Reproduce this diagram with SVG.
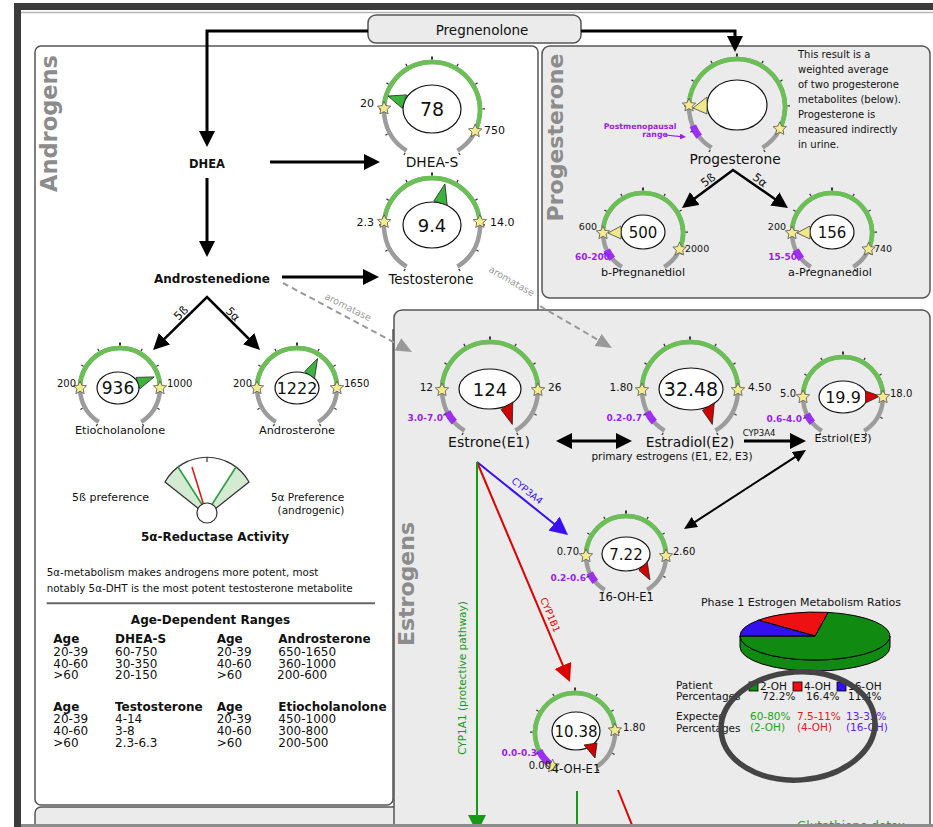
<svg xmlns="http://www.w3.org/2000/svg" xmlns:xlink="http://www.w3.org/1999/xlink" width="933" height="827" viewBox="0 0 933 827">
<style>
.t{font-family:"DejaVu Sans","Liberation Sans",sans-serif;fill:#111}
.b{font-weight:bold}
.c{text-anchor:middle}
.e{text-anchor:end}
.pnl{fill:#ebebeb;stroke:#555;stroke-width:1.5}
.ring{fill:none;stroke:#9c9c9c;stroke-width:4.5}
.grn{fill:none;stroke:#6abf55;stroke-width:4.5}
.pur{fill:none;stroke:#9d2ff0;stroke-width:7}
.tk{stroke:#333;stroke-width:1.2}
.el{fill:#fff;stroke:#111;stroke-width:1.2}
.st{fill:#f4ea8e;stroke:#555;stroke-width:0.8}
.pg{fill:#3db33d;stroke:#222;stroke-width:0.8}
.py{fill:#f2e88a;stroke:#444;stroke-width:0.8}
.pr{fill:#d00000;stroke:#222;stroke-width:0.8}
.pt{fill:#9a1ee6;font-weight:bold}
.lbl{fill:#8c8c8c;font-weight:bold}
.ln{fill:none;stroke:#000;stroke-width:3}
.ln2{fill:none;stroke:#000;stroke-width:2.5}
.gy{fill:#9a9a9a}
</style>
<defs>
<marker id="aK" viewBox="0 0 16 16" refX="4" refY="8" markerWidth="16" markerHeight="16" markerUnits="userSpaceOnUse" orient="auto-start-reverse"><path d="M0,0L16,8L0,16Z" fill="#000"/></marker>
<marker id="aS" viewBox="0 0 13 12" refX="3" refY="6" markerWidth="13" markerHeight="12" markerUnits="userSpaceOnUse" orient="auto-start-reverse"><path d="M0,0L13,6L0,12Z" fill="#000"/></marker>
<marker id="aB" viewBox="0 0 18 18" refX="4" refY="9" markerWidth="18" markerHeight="18" markerUnits="userSpaceOnUse" orient="auto"><path d="M0,0L18,9L0,18Z" fill="#3a10f0"/></marker>
<marker id="aR" viewBox="0 0 18 18" refX="4" refY="9" markerWidth="18" markerHeight="18" markerUnits="userSpaceOnUse" orient="auto"><path d="M0,0L18,9L0,18Z" fill="#dd0000"/></marker>
<marker id="aG" viewBox="0 0 18 18" refX="4" refY="9" markerWidth="18" markerHeight="18" markerUnits="userSpaceOnUse" orient="auto"><path d="M0,0L18,9L0,18Z" fill="#149a14"/></marker>
<marker id="aY" viewBox="0 0 16 14" refX="4" refY="7" markerWidth="16" markerHeight="14" markerUnits="userSpaceOnUse" orient="auto"><path d="M0,0L16,7L0,14Z" fill="#999"/></marker>
<marker id="aP" viewBox="0 0 6 6" refX="1" refY="3" markerWidth="6" markerHeight="6" markerUnits="userSpaceOnUse" orient="auto"><path d="M0,0L6,3L0,6Z" fill="#9a1ee6"/></marker>
<path id="r48" class="ring" d="M-25.44,40.7A48,48 0 1 1 25.44,40.7"/>
<path id="r40" class="ring" d="M-21.2,33.92A40,40 0 1 1 21.2,33.92"/>
<g id="k48" class="tk">
<line y1="-50.5" y2="-53" transform="rotate(-148)"/><line y1="-50.5" y2="-53" transform="rotate(-118.4)"/><line y1="-50.5" y2="-53" transform="rotate(-88.8)"/><line y1="-50.5" y2="-53" transform="rotate(-59.2)"/><line y1="-50.5" y2="-53" transform="rotate(-29.6)"/><line y1="-50.5" y2="-53.5" stroke-width="2"/><line y1="-50.5" y2="-53" transform="rotate(29.6)"/><line y1="-50.5" y2="-53" transform="rotate(59.2)"/><line y1="-50.5" y2="-53" transform="rotate(88.8)"/><line y1="-50.5" y2="-53" transform="rotate(118.4)"/><line y1="-50.5" y2="-53" transform="rotate(148)"/>
</g>
<g id="k40" class="tk">
<line y1="-42.5" y2="-45" transform="rotate(-148)"/><line y1="-42.5" y2="-45" transform="rotate(-118.4)"/><line y1="-42.5" y2="-45" transform="rotate(-88.8)"/><line y1="-42.5" y2="-45" transform="rotate(-59.2)"/><line y1="-42.5" y2="-45" transform="rotate(-29.6)"/><line y1="-42.5" y2="-45.5" stroke-width="2"/><line y1="-42.5" y2="-45" transform="rotate(29.6)"/><line y1="-42.5" y2="-45" transform="rotate(59.2)"/><line y1="-42.5" y2="-45" transform="rotate(88.8)"/><line y1="-42.5" y2="-45" transform="rotate(118.4)"/><line y1="-42.5" y2="-45" transform="rotate(148)"/>
</g>
<path id="s" class="st" d="M0,-7L1.94,-2.67L6.66,-2.16L3.14,1.02L4.11,5.66L0,3.3L-4.11,5.66L-3.14,1.02L-6.66,-2.16L-1.94,-2.67Z"/>
</defs>

<g id="frame">
<rect x="0" y="0" width="933" height="827" fill="#fff"/>
<rect x="14" y="3" width="7" height="824" fill="#3b3b3b"/>
<rect x="14" y="3" width="919" height="7" fill="#3b3b3b"/>
<line x1="21" y1="12.5" x2="933" y2="12.5" stroke="#b5b5b5" stroke-width="1.5"/>
</g>

<g id="panel-androgens">
<path d="M41,46H532A6,6 0 0 1 538,52V330H393V799A6,6 0 0 1 387,805H41A6,6 0 0 1 35,799V52A6,6 0 0 1 41,46Z" fill="#fff" stroke="#555" stroke-width="1.5"/>
<text class="t lbl c" font-size="22.5" transform="translate(56.5,123.5) rotate(-90)">Androgens</text>
</g>
<g id="panel-bottom"><rect x="35" y="807" width="380" height="40" rx="6" class="pnl"/></g>
<g id="panel-progesterone">
<rect x="542" y="46" width="388" height="252" rx="8" class="pnl"/>
<text class="t lbl c" font-size="22" transform="translate(562.5,137.5) rotate(-90)">Progesterone</text>
<g class="t" font-size="10">
<text x="798" y="58">This result is a</text>
<text x="798" y="73">weighted average</text>
<text x="798" y="88">of two progesterone</text>
<text x="798" y="103">metabolites (below).</text>
<text x="798" y="118">Progesterone is</text>
<text x="798" y="133">measured indirectly</text>
<text x="798" y="148">in urine.</text>
</g>
</g>
<g id="panel-estrogens">
<rect x="394" y="310" width="536" height="540" rx="8" class="pnl"/>
<text class="t lbl c" font-size="22" transform="translate(414,584) rotate(-90)">Estrogens</text>
</g>

<g id="node-pregnenolone">
<rect x="368" y="15" width="213" height="28" rx="8" class="pnl"/>
<text x="482" y="35" class="t c" font-size="13.5">Pregnenolone</text>
</g>

<g id="connectors">
<polyline points="368,31 207,31 207,135" class="ln" marker-end="url(#aK)"/>
<polyline points="581,31 735,31 735,40" class="ln" marker-end="url(#aK)"/>
<line x1="270" y1="162" x2="368" y2="162" class="ln" marker-end="url(#aK)"/>
<line x1="207" y1="178" x2="207" y2="245" class="ln" marker-end="url(#aK)"/>
<line x1="282" y1="277" x2="367" y2="277" class="ln" marker-end="url(#aK)"/>
<polyline points="161.6,341.6 207,297 251.5,341.5" class="ln2" marker-start="url(#aK)" marker-end="url(#aK)"/>
<polyline points="691.6,200.8 733,170 778.1,201.2" class="ln2" marker-start="url(#aK)" marker-end="url(#aK)"/>
<line x1="283" y1="283" x2="401.4" y2="346.3" stroke="#999" stroke-width="2" stroke-dasharray="6,4" marker-end="url(#aY)"/>
<line x1="540" y1="306" x2="601.6" y2="342" stroke="#999" stroke-width="2" stroke-dasharray="6,4" marker-end="url(#aY)"/>
<text class="t gy c" font-size="9.5" transform="translate(346.5,310) rotate(27)">aromatase</text>
<text class="t gy c" font-size="9.5" transform="translate(510,284) rotate(30)">aromatase</text>
<line x1="568" y1="441" x2="620" y2="441" class="ln" marker-start="url(#aK)" marker-end="url(#aK)"/>
<line x1="744" y1="441" x2="794" y2="441" class="ln" marker-end="url(#aK)"/>
<text x="759" y="436" class="t c" font-size="8.5">CYP3A4</text>
<text x="672" y="460" class="t c" font-size="10.5">primary estrogens (E1, E2, E3)</text>
<line x1="692.4" y1="523.6" x2="797.6" y2="455.4" stroke="#000" stroke-width="2" marker-start="url(#aS)" marker-end="url(#aS)"/>
<line x1="477" y1="462" x2="557.1" y2="526.2" stroke="#3a10f0" stroke-width="2" marker-end="url(#aB)"/>
<line x1="477" y1="462" x2="564.5" y2="669.1" stroke="#dd0000" stroke-width="2" marker-end="url(#aR)"/>
<line x1="477" y1="462" x2="477" y2="819" stroke="#149a14" stroke-width="2" marker-end="url(#aG)"/>
<text class="t c" font-size="9.5" style="fill:#3a10f0" transform="translate(527,491) rotate(38.7)" y="3">CYP3A4</text>
<text class="t c" font-size="9.5" style="fill:#dd0000" transform="translate(550,615) rotate(67)" y="3">CYP1B1</text>
<text class="t c" font-size="10.5" style="fill:#149a14" transform="translate(466,678) rotate(-90)">CYP1A1 (protective pathway)</text>
<line x1="577" y1="791" x2="577" y2="830" stroke="#149a14" stroke-width="2"/>
<line x1="618" y1="790" x2="634" y2="830" stroke="#dd0000" stroke-width="2"/>
<line x1="665" y1="135" x2="681" y2="136.6" stroke="#9a1ee6" stroke-width="1.2" marker-end="url(#aP)"/>
</g>

<g id="node-dhea"><text x="207" y="168" class="t b c" font-size="11.5">DHEA</text></g>
<g id="node-androstenedione"><text x="212" y="283" class="t b c" font-size="12">Androstenedione</text></g>
<g id="labels-5ab" class="t" font-size="11.5">
<text class="t c" transform="translate(181,313) rotate(-44.5)" y="4">5ß</text>
<text class="t c" transform="translate(233,314) rotate(44.5)" y="4">5α</text>
<text class="t c" transform="translate(708,180) rotate(-36.7)" y="4">5ß</text>
<text class="t c" transform="translate(760,180) rotate(36.7)" y="4">5α</text>
</g>

<g id="node-dheas" transform="translate(432,110)">
<use href="#r48"/>
<path class="grn" d="M-47.97,-1.68A48,48 0 1 1 43.14,21.04"/>
<use href="#k48"/>
<ellipse cx="0" cy="-1" rx="29" ry="24" class="el"/>
<polygon class="pg" points="-44,-14 -25.4,-15.1 -29.8,-1.7"/>
<use href="#s" x="-47.97" y="-1.68"/><use href="#s" x="43.14" y="21.04"/>
<text x="0" y="5.8" class="t c" font-size="19">78</text>
<text x="-58" y="-3" class="t e" font-size="11">20</text>
<text x="52" y="24" class="t" font-size="11">750</text>
<text x="0" y="57" class="t c" font-size="13.8">DHEA-S</text>
</g>

<g id="node-testosterone" transform="translate(432,226)">
<use href="#r48"/>
<path class="grn" d="M-47.82,-4.18A48,48 0 0 1 47.82,-4.18"/>
<use href="#k48"/>
<ellipse cx="0" cy="-1" rx="29" ry="23" class="el"/>
<polygon class="pg" points="12.9,-42.1 15.2,-21 1.8,-25"/>
<use href="#s" x="-47.82" y="-4.18"/><use href="#s" x="47.82" y="-4.18"/>
<text x="0" y="5.5" class="t c" font-size="18">9.4</text>
<text x="-58" y="-0.5" class="t e" font-size="11">2.3</text>
<text x="58" y="-0.5" class="t" font-size="11">14.0</text>
<text x="-1" y="58" class="t c" font-size="13.4">Testosterone</text>
</g>

<g id="node-etiocholanolone" transform="translate(120,388)">
<use href="#r40"/>
<path class="grn" d="M-40,0A40,40 0 0 1 40,0"/>
<use href="#k40"/>
<ellipse cx="-2" cy="0" rx="21" ry="16" class="el"/>
<polygon class="pg" points="34.2,-11.1 19.9,0.8 16.1,-10.6"/>
<use href="#s" x="-40" y="0"/><use href="#s" x="40" y="0"/>
<text x="-2" y="6" class="t c" font-size="17">936</text>
<text x="-44" y="-1" class="t e" font-size="10">200</text>
<text x="47" y="-1" class="t" font-size="10">1000</text>
<text x="0" y="46" class="t c" font-size="11.3">Etiocholanolone</text>
</g>

<g id="node-androsterone" transform="translate(297,388)">
<use href="#r40"/>
<path class="grn" d="M-40,0A40,40 0 0 1 40,0"/>
<use href="#k40"/>
<ellipse cx="0" cy="0" rx="22" ry="16" class="el"/>
<polygon class="pg" points="20.6,-29.5 17.5,-9.7 7.7,-16.5"/>
<use href="#s" x="-40" y="0"/><use href="#s" x="40" y="0"/>
<text x="0" y="5.5" class="t c" font-size="16">1222</text>
<text x="-45" y="-1" class="t e" font-size="10">200</text>
<text x="47" y="-1" class="t" font-size="10">1650</text>
<text x="0" y="46" class="t c" font-size="11.3">Androsterone</text>
</g>

<g id="node-reductase">
<path d="M199,509L165,482A48,48 0 0 1 178,467L203,506Z" fill="#d3ead3"/>
<path d="M215,509L249,482A48,48 0 0 0 236,467L211,506Z" fill="#d3ead3"/>
<path d="M199,509L165,482A48,48 0 0 1 249,482L215,509" fill="none" stroke="#333" stroke-width="1.2"/>
<line x1="178" y1="467" x2="203" y2="506" stroke="#2e9e3e" stroke-width="1.6"/>
<line x1="236" y1="467" x2="211" y2="506" stroke="#2e9e3e" stroke-width="1.6"/>
<line x1="192" y1="467" x2="204" y2="506" stroke="#e01010" stroke-width="1.5"/>
<line x1="207" y1="457" x2="207" y2="462" stroke="#333" stroke-width="1.2"/>
<circle cx="207" cy="513" r="10" fill="#fff" stroke="#333" stroke-width="1.2"/>
<text x="110.5" y="501" class="t c" font-size="11">5ß preference</text>
<text x="307.5" y="501" class="t c" font-size="10.5">5α Preference</text>
<text x="311" y="514" class="t c" font-size="10.5">(androgenic)</text>
<text x="215" y="541" class="t b c" font-size="12">5α-Reductase Activity</text>
</g>

<g id="node-notes">
<text x="46.7" y="575.5" class="t" font-size="10.3">5α-metabolism makes androgens more potent, most</text>
<text x="46.7" y="591.5" class="t" font-size="10.3">notably 5α-DHT is the most potent testosterone metabolite</text>
<line x1="46.7" y1="603.3" x2="375" y2="603.3" stroke="#666" stroke-width="2"/>
<text x="210.5" y="624" class="t b c" font-size="12">Age-Dependent Ranges</text>
</g>

<g id="node-age-table" class="t" font-size="12">
<g class="b"><text x="53.3" y="643.3">Age</text><text x="115" y="643.3">DHEA-S</text><text x="216.7" y="643.3">Age</text><text x="278.3" y="643.3">Androsterone</text></g>
<text x="53.3" y="656">20-39</text><text x="115" y="656">60-750</text><text x="216.7" y="656">20-39</text><text x="278.3" y="656">650-1650</text>
<text x="53.3" y="667.7">40-60</text><text x="115" y="667.7">30-350</text><text x="216.7" y="667.7">40-60</text><text x="278.3" y="667.7">360-1000</text>
<text x="53.3" y="679.3">&gt;60</text><text x="115" y="679.3">20-150</text><text x="216.7" y="679.3">&gt;60</text><text x="277" y="679.3">200-600</text>
<g class="b"><text x="53.3" y="710.7">Age</text><text x="115" y="710.7">Testosterone</text><text x="216.7" y="710.7">Age</text><text x="278.3" y="710.7">Etiocholanolone</text></g>
<text x="53.3" y="723.3">20-39</text><text x="115" y="723.3">4-14</text><text x="216.7" y="723.3">20-39</text><text x="278.3" y="723.3">450-1000</text>
<text x="53.3" y="735">40-60</text><text x="115" y="735">3-8</text><text x="216.7" y="735">40-60</text><text x="278.3" y="735">300-800</text>
<text x="53.3" y="746.7">&gt;60</text><text x="115" y="746.7">2.3-6.3</text><text x="216.7" y="746.7">&gt;60</text><text x="278.3" y="746.7">200-500</text>
</g>

<g id="node-progesterone" transform="translate(737,107)">
<use href="#r48"/>
<path class="grn" d="M-47.97,-1.68A48,48 0 1 1 42.77,21.79"/>
<path class="pur" d="M-37.82,29.55A48,48 0 0 1 -44.18,18.75"/>
<use href="#k48"/>
<ellipse cx="0" cy="-2" rx="30" ry="25" class="el"/>
<polygon class="py" points="-44,1 -30,-10 -30,7"/>
<use href="#s" x="-47.97" y="-1.68"/><use href="#s" x="42.77" y="21.79"/>
<text x="-2" y="57" class="t c" font-size="13.8">Progesterone</text>
<text x="-97" y="22" class="t pt c" font-size="7.8">Postmenopausal</text>
<text x="-82" y="29.5" class="t pt c" font-size="7.8">range</text>
</g>

<g id="node-bpregnanediol" transform="translate(643,233)">
<use href="#r40"/>
<path class="grn" d="M-40,0A40,40 0 1 1 36.54,16.27"/>
<path class="pur" d="M-30.64,25.71A40,40 0 0 1 -36.25,16.9"/>
<use href="#k40"/>
<ellipse cx="0" cy="-1" rx="22" ry="17" class="el"/>
<polygon class="py" points="-35,0 -22,-7 -22,6"/>
<use href="#s" x="-40" y="0"/><use href="#s" x="36.54" y="16.27"/>
<text x="0" y="5" class="t c" font-size="15">500</text>
<text x="-46" y="-3" class="t e" font-size="9.5">600</text>
<text x="42" y="19" class="t" font-size="9.5">2000</text>
<text x="-33" y="27" class="t pt e" font-size="9">60-200</text>
<text x="0" y="43" class="t c" font-size="11.2">b-Pregnanediol</text>
</g>

<g id="node-apregnanediol" transform="translate(832,233)">
<use href="#r40"/>
<path class="grn" d="M-40,0A40,40 0 1 1 36.54,16.27"/>
<path class="pur" d="M-30.64,25.71A40,40 0 0 1 -36.25,16.9"/>
<use href="#k40"/>
<ellipse cx="0" cy="-1" rx="22" ry="17" class="el"/>
<polygon class="py" points="-35,0 -22,-7 -22,6"/>
<use href="#s" x="-40" y="0"/><use href="#s" x="36.54" y="16.27"/>
<text x="0" y="5" class="t c" font-size="15">156</text>
<text x="-46" y="-3" class="t e" font-size="9.5">200</text>
<text x="42" y="19" class="t" font-size="9.5">740</text>
<text x="-35" y="27" class="t pt e" font-size="9">15-50</text>
<text x="-2" y="43" class="t c" font-size="11.2">a-Pregnanediol</text>
</g>

<g id="node-estrone" transform="translate(490,390)">
<use href="#r48"/>
<path class="grn" d="M-48,0A48,48 0 0 1 48,0"/>
<path class="pur" d="M-35.67,32.12A48,48 0 0 1 -42.77,21.79"/>
<use href="#k48"/>
<ellipse cx="0" cy="-1" rx="31" ry="20" class="el"/>
<polygon class="pr" points="22.3,34.4 11,19.6 22.8,12"/>
<use href="#s" x="-48" y="0"/><use href="#s" x="48" y="0"/>
<text x="0" y="5.5" class="t c" font-size="18">124</text>
<text x="-57" y="1" class="t e" font-size="10.5">12</text>
<text x="58" y="1" class="t" font-size="10.5">26</text>
<text x="-47" y="31" class="t pt e" font-size="9">3.0-7.0</text>
<text x="-1" y="57" class="t c" font-size="14">Estrone(E1)</text>
</g>

<g id="node-estradiol" transform="translate(690,390)">
<use href="#r48"/>
<path class="grn" d="M-48,0A48,48 0 0 1 48,0"/>
<path class="pur" d="M-35.67,32.12A48,48 0 0 1 -42.77,21.79"/>
<use href="#k48"/>
<ellipse cx="1" cy="-1" rx="32" ry="21" class="el"/>
<polygon class="pr" points="22.3,34.4 12.5,20.4 24.3,12.8"/>
<use href="#s" x="-48" y="0"/><use href="#s" x="48" y="0"/>
<text x="1" y="6" class="t c" font-size="19">32.48</text>
<text x="-57" y="1" class="t e" font-size="10.5">1.80</text>
<text x="58" y="1" class="t" font-size="10.5">4.50</text>
<text x="-48" y="31" class="t pt e" font-size="9">0.2-0.7</text>
<text x="0" y="57" class="t c" font-size="13.8">Estradiol(E2)</text>
</g>

<g id="node-estriol" transform="translate(843,397)">
<use href="#r40"/>
<path class="grn" d="M-40,0A40,40 0 0 1 40,0"/>
<path class="pur" d="M-30.64,25.71A40,40 0 0 1 -36.25,16.9"/>
<use href="#k40"/>
<ellipse cx="0" cy="0" rx="24" ry="16" class="el"/>
<polygon class="pr" points="37,-1 22.5,-6 22.5,6"/>
<use href="#s" x="-40" y="0"/><use href="#s" x="40" y="0"/>
<text x="0" y="5.5" class="t c" font-size="16">19.9</text>
<text x="-47" y="0" class="t e" font-size="10">5.0</text>
<text x="47" y="0" class="t" font-size="10">18.0</text>
<text x="-41" y="25" class="t pt e" font-size="9">0.6-4.0</text>
<text x="0" y="45" class="t c" font-size="11">Estriol(E3)</text>
</g>

<g id="node-16ohe1" transform="translate(626,556)">
<use href="#r40"/>
<path class="grn" d="M-40,0A40,40 0 0 1 40,0"/>
<path class="pur" d="M-30.64,25.71A40,40 0 0 1 -36.25,16.9"/>
<use href="#k40"/>
<ellipse cx="0" cy="-2" rx="24" ry="17" class="el"/>
<polygon class="pr" points="24,24 12.8,14.2 21.2,5.8"/>
<use href="#s" x="-40" y="0"/><use href="#s" x="40" y="0"/>
<text x="0" y="3.5" class="t c" font-size="15">7.22</text>
<text x="-47" y="-1" class="t e" font-size="10">0.70</text>
<text x="47" y="-1" class="t" font-size="10">2.60</text>
<text x="-40" y="25" class="t pt e" font-size="9">0.2-0.6</text>
<text x="0" y="45" class="t c" font-size="11.5">16-OH-E1</text>
</g>

<g id="node-4ohe1" transform="translate(575,733)">
<use href="#r40"/>
<path class="grn" d="M-22.37,33.16A40,40 0 1 1 39.9,-2.79"/>
<path class="pur" d="M-23.51,32.36A40,40 0 0 1 -35.95,17.54" stroke-width="6"/>
<use href="#k40"/>
<ellipse cx="1" cy="-2" rx="24" ry="19" class="el"/>
<polygon class="pr" points="9,12 22,10 20,25"/>
<use href="#s" x="-22.37" y="33.16"/><use href="#s" x="39.9" y="-2.79"/>
<text x="1" y="3.5" class="t c" font-size="15">10.38</text>
<text x="-24" y="36" class="t e" font-size="10">0.00</text>
<text x="48" y="-2" class="t" font-size="10">1.80</text>
<text x="-38" y="23" class="t pt e" font-size="9">0.0-0.3</text>
<text x="1" y="40" class="t c" font-size="11.6">4-OH-E1</text>
</g>

<g id="node-pie">
<text x="801" y="606" class="t c" font-size="11">Phase 1 Estrogen Metabolism Ratios</text>
<path d="M740,636A75,24 0 0 0 890,636L890,647A75,24 0 0 1 740,647Z" fill="#118a11" stroke="#000" stroke-width="1"/>
<path d="M815,636L828.1,612.4A75,24 0 1 1 740,636Z" fill="#118a11" stroke="#000" stroke-width="1"/>
<path d="M815,636L758.4,620.2A75,24 0 0 1 828.1,612.4Z" fill="#ee1111" stroke="#000" stroke-width="1"/>
<path d="M815,636L740,636A75,24 0 0 1 758.4,620.2Z" fill="#3311ee" stroke="#000" stroke-width="1"/>
<g class="t" font-size="10.5">
<text x="676" y="689">Patient</text>
<text x="676" y="700">Percentages</text>
<rect x="749" y="682" width="9" height="9" fill="#118a11" stroke="#000" stroke-width="0.8"/>
<rect x="793" y="682" width="9" height="9" fill="#ee1111" stroke="#000" stroke-width="0.8"/>
<rect x="837" y="682" width="9" height="9" fill="#3311ee" stroke="#000" stroke-width="0.8"/>
<text x="760" y="690">2-OH</text><text x="804" y="690">4-OH</text><text x="848" y="690">16-OH</text>
<text x="762" y="700">72.2%</text><text x="806" y="700">16.4%</text><text x="848" y="700">11.4%</text>
<text x="676" y="720">Expected</text>
<text x="676" y="732">Percentages</text>
<text x="750" y="720" style="fill:#1aa31a">60-80%</text><text x="797" y="720" style="fill:#dd2020">7.5-11%</text><text x="846" y="720" style="fill:#5a22ee">13-33%</text>
<text x="750" y="731" style="fill:#1aa31a">(2-OH)</text><text x="797" y="731" style="fill:#dd2020">(4-OH)</text><text x="846" y="731" style="fill:#5a22ee">(16-OH)</text>
</g>
<ellipse cx="798" cy="726" rx="77" ry="54" fill="none" stroke="#444" stroke-width="5.5" transform="rotate(-4 798 726)"/>
</g>

<g id="node-glutathione"><text x="851" y="830" class="t c" font-size="12" style="fill:#2aa02a">Glutathione detox</text></g>

<rect x="21" y="824" width="912" height="3" fill="#8c8c8c"/>
</svg>
